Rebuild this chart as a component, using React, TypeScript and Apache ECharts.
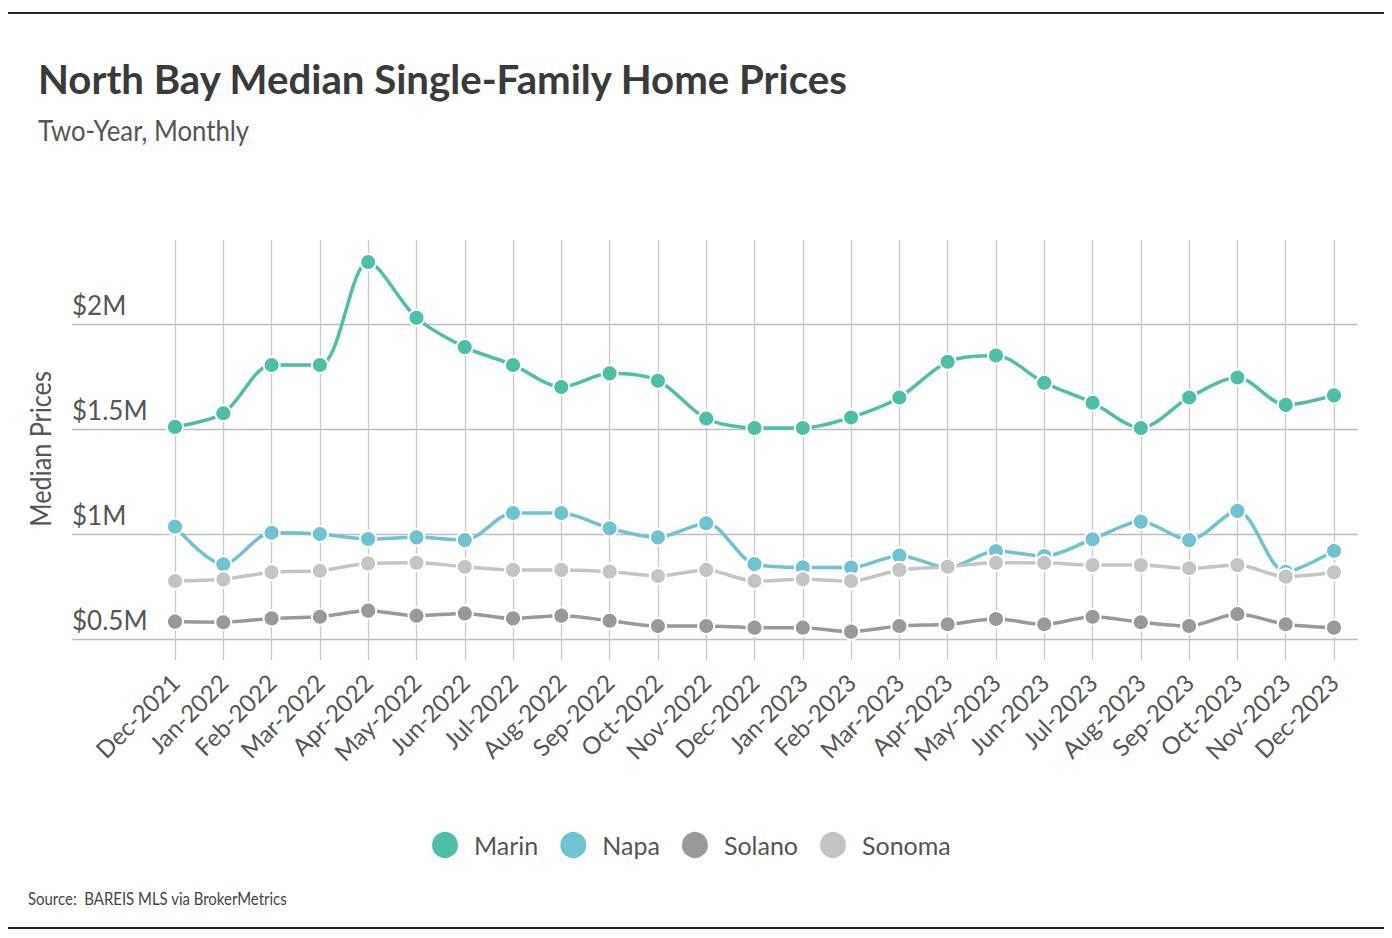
import React, { useEffect, useRef } from "react";
import * as echarts from "echarts";

const categories = [
  "Dec-2021", "Jan-2022", "Feb-2022", "Mar-2022", "Apr-2022", "May-2022", "Jun-2022",
  "Jul-2022", "Aug-2022", "Sep-2022", "Oct-2022", "Nov-2022", "Dec-2022", "Jan-2023",
  "Feb-2023", "Mar-2023", "Apr-2023", "May-2023", "Jun-2023", "Jul-2023", "Aug-2023",
  "Sep-2023", "Oct-2023", "Nov-2023", "Dec-2023",
];

const marin = [1.51, 1.575, 1.805, 1.805, 2.295, 2.03, 1.89, 1.805, 1.70, 1.765, 1.73, 1.55, 1.505, 1.505, 1.555, 1.65, 1.82, 1.85, 1.72, 1.625, 1.505, 1.65, 1.745, 1.615, 1.66];
const napa = [1.035, 0.856, 1.006, 1.0, 0.976, 0.984, 0.971, 1.10, 1.10, 1.027, 0.984, 1.051, 0.857, 0.841, 0.840, 0.897, 0.84, 0.919, 0.895, 0.975, 1.059, 0.971, 1.110, 0.82, 0.920];
const solano = [0.583, 0.580, 0.598, 0.606, 0.635, 0.611, 0.622, 0.598, 0.611, 0.587, 0.562, 0.562, 0.554, 0.554, 0.535, 0.562, 0.570, 0.595, 0.570, 0.606, 0.580, 0.562, 0.619, 0.570, 0.554];
const sonoma = [0.776, 0.784, 0.818, 0.825, 0.860, 0.863, 0.844, 0.829, 0.829, 0.821, 0.800, 0.829, 0.776, 0.784, 0.776, 0.829, 0.844, 0.863, 0.863, 0.852, 0.852, 0.837, 0.852, 0.797, 0.818];

const seriesNames = ["Marin", "Napa", "Solano", "Sonoma"];
const seriesColors = ["#4cbfa6", "#6dc4d0", "#999999", "#c4c4c4"];
const yTickLabels: Record<string, string> = { "0.5": "$0.5M", "1": "$1M", "1.5": "$1.5M", "2": "$2M" };

const FONT = "Lato, 'DejaVu Sans Condensed', sans-serif";

export default function App() {
  const ref = useRef<HTMLDivElement>(null);
  useEffect(() => {
    if (!ref.current) return;
    const chart = echarts.init(ref.current, undefined, { renderer: "svg" });
    const data = [marin, napa, solano, sonoma];
    chart.setOption({
      animation: false,
      backgroundColor: "#ffffff",
      textStyle: { fontFamily: FONT },
      legend: {
        data: seriesNames,
        left: 425,
        top: 825,
        padding: 5,
        icon: "circle",
        itemWidth: 28,
        itemHeight: 28,
        itemGap: 20,
        textStyle: { fontFamily: FONT, fontSize: 25, color: "#555555", padding: [0, 0, 0, 10] },
      },
      grid: [
        { left: 175, right: 58, top: 240, bottom: 278 },
        { left: 72, right: 34, top: 324, bottom: 299 },
      ],
      xAxis: [
        {
          type: "category",
          gridIndex: 0,
          data: categories,
          boundaryGap: false,
          axisLine: { show: false },
          axisTick: { show: false },
          splitLine: { show: true, lineStyle: { color: "#c9c9c9", width: 1.3 } },
          axisLabel: {
            rotate: 45,
            margin: 18,
            interval: 0,
            fontFamily: FONT,
            fontSize: 24,
            color: "#555555",
          },
        },
        { type: "value", gridIndex: 1, show: false, min: 0, max: 1 },
      ],
      yAxis: [
        { type: "value", gridIndex: 0, min: 0.4, max: 2.4, show: false },
        {
          type: "value",
          gridIndex: 1,
          min: 0.5,
          max: 2.0,
          interval: 0.5,
          axisLine: { show: false },
          axisTick: { show: false },
          splitLine: { show: true, lineStyle: { color: "#bdbdbd", width: 1.3 } },
          axisLabel: {
            inside: true,
            margin: 0,
            verticalAlign: "bottom",
            padding: [0, 0, 6, 0],
            fontFamily: FONT,
            fontSize: 26,
            color: "#555555",
            formatter: (v: number) => yTickLabels[String(v)] ?? "",
          },
        },
      ],
      series: seriesNames.map((name, i) => ({
        name,
        type: "line",
        xAxisIndex: 0,
        yAxisIndex: 0,
        data: data[i],
        smooth: 0.3,
        symbol: "circle",
        symbolSize: 16,
        color: seriesColors[i],
        lineStyle: { width: 3.5, color: seriesColors[i] },
        itemStyle: { color: seriesColors[i], borderColor: "#ffffff", borderWidth: 2 },
        z: 3 + i,
      })),
      graphic: [
        { type: "line", shape: { x1: 8, y1: 13, x2: 1384, y2: 13 }, style: { stroke: "#222222", lineWidth: 2 } },
        { type: "line", shape: { x1: 8, y1: 928, x2: 1384, y2: 928 }, style: { stroke: "#222222", lineWidth: 2 } },
        {
          type: "text",
          x: 38,
          y: 78,
          scaleX: 0.98,
          style: {
            text: "North Bay Median Single-Family Home Prices",
            fontFamily: FONT,
            fontSize: 41,
            fontWeight: "bold",
            fill: "#3a3a3a",
            align: "left",
            verticalAlign: "middle",
          },
        },
        {
          type: "text",
          x: 38,
          y: 130,
          scaleX: 0.92,
          style: {
            text: "Two-Year, Monthly",
            fontFamily: FONT,
            fontSize: 28,
            fill: "#555555",
            align: "left",
            verticalAlign: "middle",
          },
        },
        {
          type: "text",
          x: 40,
          y: 449,
          rotation: Math.PI / 2,
          scaleX: 0.9,
          style: {
            text: "Median Prices",
            fontFamily: FONT,
            fontSize: 28,
            fill: "#555555",
            align: "center",
            verticalAlign: "middle",
          },
        },
        {
          type: "text",
          x: 28,
          y: 898,
          scaleX: 0.88,
          style: {
            text: "Source:  BAREIS MLS via BrokerMetrics",
            fontFamily: FONT,
            fontSize: 17,
            fill: "#444444",
            align: "left",
            verticalAlign: "middle",
          },
        },
      ],
    });
    return () => chart.dispose();
  }, []);
  return (
    <div
      ref={ref}
      style={{ position: "fixed", left: 0, top: 0, width: 1392, height: 938 }}
    />
  );
}
